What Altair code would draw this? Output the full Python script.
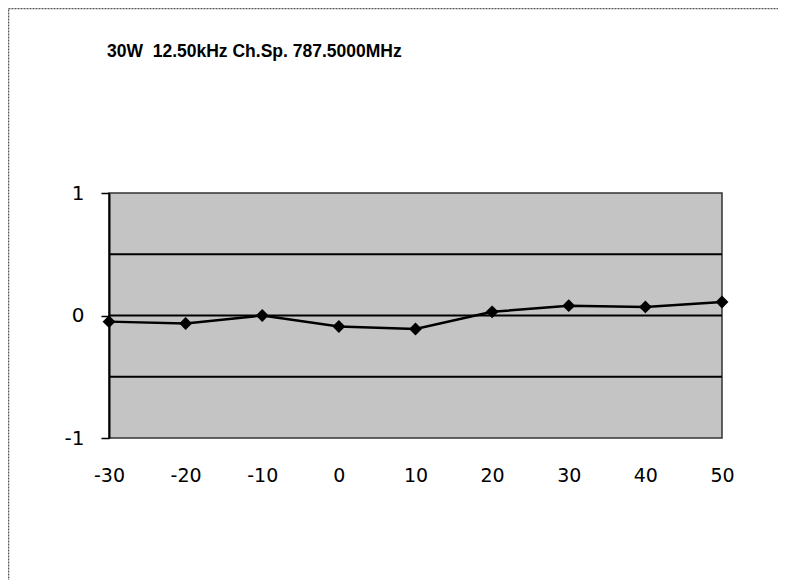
import altair as alt
import pandas as pd

temps = [-30, -20, -10, 0, 10, 20, 30, 40, 50]
devs = [-0.05, -0.065, 0.0, -0.09, -0.11, 0.03, 0.08, 0.07, 0.11]
x_ticks = [-30, -20, -10, 0, 10, 20, 30, 40, 50]
y_ticks = [-1, 0, 1]
grid_levels = [-0.5, 0, 0.5]
title_text = ["30W \u00a012.50kHz Ch.Sp. 787.5000MHz"]

df = pd.DataFrame({"t": temps, "d": devs})
gdf = pd.DataFrame({"g": grid_levels})
tdf = pd.DataFrame({"txt": title_text})

xs = alt.Scale(domain=[-30, 50], nice=False, zero=False)
ys = alt.Scale(domain=[-1, 1], nice=False, zero=False)

x_axis = alt.Axis(
    values=x_ticks, ticks=False, domain=False, grid=False, title=None,
    labelFontSize=19, labelFont="DejaVu Sans", labelColor="black",
    labelPadding=28, labelFlush=False, labelExpr="'' + datum.value")
y_axis = alt.Axis(
    values=y_ticks, ticks=True, tickSize=8, tickColor="black", tickWidth=1.5,
    domain=True, domainColor="black", domainWidth=2, grid=False, title=None,
    labelFontSize=20, labelFont="DejaVu Sans", labelColor="black",
    labelPadding=17, labelFlush=False, labelExpr="'' + datum.value")

line = alt.Chart(df).mark_line(color="black", strokeWidth=2.5).encode(
    x=alt.X("t:Q", scale=xs, axis=x_axis),
    y=alt.Y("d:Q", scale=ys, axis=y_axis),
)

frame = alt.Chart(tdf).mark_rect(
    fill=None, stroke="#555", strokeWidth=1.5, strokeDash=[2, 1]
).encode(
    x=alt.value(-100.5), x2=alt.value(720), y=alt.value(-184.5), y2=alt.value(420)
)

title = alt.Chart(tdf).mark_text(
    align="left", baseline="alphabetic", fontSize=17.5, font="Liberation Sans",
    fontWeight="bold", color="black"
).encode(
    x=alt.value(-2), y=alt.value(-136), text="txt:N"
)

grid = alt.Chart(gdf).mark_rule(color="black", strokeWidth=2).encode(
    y=alt.Y("g:Q", scale=ys, axis=y_axis)
)

pts = alt.Chart(df).mark_point(
    shape="diamond", filled=True, color="black", size=165, opacity=1
).encode(
    x=alt.X("t:Q", scale=xs, axis=x_axis),
    y=alt.Y("d:Q", scale=ys, axis=y_axis),
)

chart = alt.layer(line, grid, frame, title, pts).properties(
    width=613,
    height=245,
    autosize=alt.AutoSizeParams(type="none"),
    padding={"left": 101, "top": 185, "right": 56, "bottom": 142},
    background="white",
).configure_view(
    fill="#c4c4c4", stroke="#333", strokeWidth=1.5
)

chart.save("out.html", embed_options={"renderer": "svg", "actions": False})
